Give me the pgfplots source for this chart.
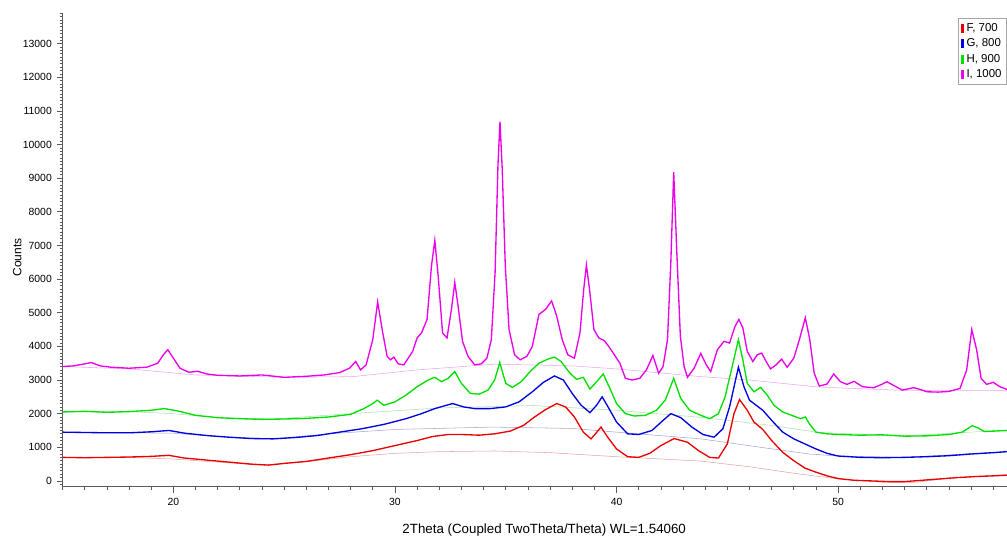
\documentclass[border=0pt]{standalone}
\usepackage{fontspec}
\setmainfont{Liberation Sans}
\usepackage{pgfplots}
\pgfplotsset{compat=1.18}
\usetikzlibrary{calc}
\definecolor{cF}{RGB}{235,0,0}
\definecolor{cG}{RGB}{0,0,225}
\definecolor{cH}{RGB}{0,225,0}
\definecolor{cI}{RGB}{235,0,235}
\definecolor{bF}{RGB}{225,165,165}
\definecolor{bG}{RGB}{165,165,215}
\definecolor{bH}{RGB}{170,225,170}
\definecolor{bI}{RGB}{235,165,235}
\definecolor{axc}{RGB}{90,90,90}
\begin{document}
\begin{tikzpicture}
\begin{axis}[
  scale only axis,
  width=708.4pt, height=355pt,
  xmin=15, xmax=57.62, ymin=-170, ymax=13900,
  axis lines=left,
  axis line style={-, axc, line width=0.6pt},
  tick style={axc, line width=0.5pt},
  tick align=outside,
  major tick length=4.5pt,
  minor tick length=2.2pt,
  xtick={20,30,40,50},
  minor xtick={15,16,...,57},
  ytick={0,1000,...,13000},
  minor ytick={-100,0,...,13900},
  scaled y ticks=false,
  scaled x ticks=false,
  yticklabel={\pgfmathprintnumber[fixed,precision=0,1000 sep={}]{\tick}},
  /pgf/number format/1000 sep={},
  /pgf/number format/assume math mode=true,
  tick label style={font=\fontsize{7.8}{8}\selectfont},
  xticklabel style={yshift=-1pt},
  xlabel={2Theta (Coupled TwoTheta/Theta) WL=1.54060},
  ylabel={Counts},
  xlabel style={at={(axis description cs:0.51,-0.091)}, anchor=center, font=\fontsize{10}{12}\selectfont},
  ylabel style={at={(axis description cs:-0.048,0.484)}, anchor=center, font=\fontsize{9}{11}\selectfont},
  legend style={at={(1,0.99)}, anchor=north east, draw=gray!70, line width=0.5pt,
    font=\fontsize{8.6}{9.5}\selectfont, inner sep=1.8pt, row sep=0pt, cells={anchor=west}},
  legend image code/.code={\draw[#1, line width=2.3pt] (0.14cm,-0.12cm) -- (0.14cm,0.12cm);},
  clip=true,
]
% background curves
\addplot[bF, line width=0.4pt, forget plot] coordinates {
(15,690)(18,700)(20,650)(22,560)(24,470)(26,570)(28,720)(30,820)(32,870)(34.5,890)(37,840)(40,720)(43.8,590)(46,420)(48.3,200)(50,60)(52,-40)(53.5,-40)(55,80)(57.62,190)};
\addplot[bG, line width=0.4pt, forget plot] coordinates {
(15,1440)(18,1430)(20,1420)(22,1320)(24.5,1250)(27,1400)(30,1530)(34.4,1600)(38,1560)(40,1450)(43.8,1250)(46.5,1000)(48.7,800)(50,740)(53,700)(57.62,870)};
\addplot[bH, line width=0.4pt, forget plot] coordinates {
(15,2050)(18,2060)(20,2000)(22,1880)(24.5,1840)(28,2000)(32,2170)(36.3,2240)(40,2100)(43.8,1890)(47,1650)(49.1,1440)(53,1340)(57.62,1510)};
\addplot[bI, line width=0.4pt, forget plot] coordinates {
(15,3400)(18,3330)(21,3150)(25,3080)(28.1,3100)(31,3300)(34.5,3470)(38,3420)(40,3330)(43.8,3100)(46,3000)(49.1,2790)(53,2690)(57.62,2680)};
% F, 700
\addplot[cF, line width=1pt] coordinates {
(15,700)(16,690)(17,700)(18,710)(19,730)(19.8,760)(20.5,680)(21.5,620)(22.5,560)(23.5,500)(24.3,470)(25,520)(26,580)(27,680)(28,780)(29,900)(30,1050)(31,1200)(31.7,1320)(32.4,1380)(33,1380)(33.8,1360)(34.5,1400)(35.2,1480)(35.8,1650)(36.3,1900)(36.8,2120)(37.3,2300)(37.7,2200)(38.1,1900)(38.5,1450)(38.85,1250)(39.05,1400)(39.3,1600)(39.6,1300)(40.0,950)(40.5,720)(41.0,700)(41.5,820)(42.0,1050)(42.6,1260)(43.2,1150)(43.7,900)(44.2,700)(44.6,680)(45.0,1100)(45.3,2000)(45.55,2420)(45.9,2100)(46.2,1750)(46.6,1530)(47.0,1200)(47.5,850)(48.0,600)(48.5,380)(49.0,260)(49.5,150)(50.0,70)(50.7,20)(51.5,0)(52.3,-20)(53.0,-20)(53.8,20)(54.6,60)(55.4,100)(56.2,130)(57.0,150)(57.62,170)};
\addlegendentry{F, 700}
% G, 800
\addplot[cG, line width=1pt] coordinates {
(15,1450)(16,1440)(17,1430)(18,1430)(19,1460)(19.8,1500)(20.5,1420)(21.5,1350)(22.5,1300)(23.5,1260)(24.5,1250)(25.5,1290)(26.5,1350)(27.5,1450)(28.5,1550)(29.5,1680)(30.5,1850)(31.2,2000)(31.8,2150)(32.6,2300)(33.1,2200)(33.6,2150)(34.3,2150)(35.0,2200)(35.6,2350)(36.2,2650)(36.7,2930)(37.2,3120)(37.6,3000)(38.0,2600)(38.4,2250)(38.8,2030)(39.1,2250)(39.35,2500)(39.6,2220)(40.0,1750)(40.5,1400)(41.0,1380)(41.6,1500)(42.1,1800)(42.45,2000)(42.9,1880)(43.4,1600)(43.9,1380)(44.4,1300)(44.8,1550)(45.1,2200)(45.5,3380)(45.75,2800)(46.0,2400)(46.3,2250)(46.6,2100)(47.0,1800)(47.5,1450)(48.0,1250)(48.5,1100)(49.0,950)(49.5,820)(50.0,740)(51,700)(52,690)(53,700)(54,720)(55,750)(56,800)(57,840)(57.62,870)};
\addlegendentry{G, 800}
% H, 900
\addplot[cH, line width=1pt] coordinates {
(15,2050)(16,2070)(17,2040)(18,2060)(19,2100)(19.6,2150)(20.2,2080)(21,1950)(22,1880)(23,1850)(24,1830)(25,1840)(26,1860)(27,1900)(28,1980)(28.6,2150)(29.0,2300)(29.2,2400)(29.5,2250)(30.0,2350)(30.5,2550)(31.0,2800)(31.5,3000)(31.8,3080)(32.1,2950)(32.4,3050)(32.7,3250)(33.0,2900)(33.4,2600)(33.8,2580)(34.2,2700)(34.5,3000)(34.73,3520)(35.0,2900)(35.3,2780)(35.7,2950)(36.1,3250)(36.5,3500)(36.9,3620)(37.2,3680)(37.5,3550)(37.9,3200)(38.2,3020)(38.5,3080)(38.8,2730)(39.1,2950)(39.4,3180)(39.7,2750)(40.0,2300)(40.4,2000)(40.8,1930)(41.3,1950)(41.8,2100)(42.2,2400)(42.58,3050)(42.9,2450)(43.3,2100)(43.8,1950)(44.2,1850)(44.6,2000)(44.9,2500)(45.2,3350)(45.5,4200)(45.7,3600)(45.9,2900)(46.2,2650)(46.5,2780)(46.8,2550)(47.1,2250)(47.5,2050)(47.9,1950)(48.3,1850)(48.52,1900)(48.7,1700)(49.0,1450)(49.5,1400)(50,1380)(51,1360)(52,1370)(53,1330)(54,1340)(55,1380)(55.6,1450)(56.05,1640)(56.3,1580)(56.6,1470)(57,1480)(57.62,1500)};
\addlegendentry{H, 900}
% I, 1000
\addplot[cI, line width=1pt] coordinates {
(15,3400)(15.5,3420)(16.0,3480)(16.3,3520)(16.7,3420)(17.2,3380)(18.0,3350)(18.8,3380)(19.3,3500)(19.55,3750)(19.75,3900)(20.0,3650)(20.3,3350)(20.7,3230)(21.1,3260)(21.5,3180)(22.0,3140)(23.0,3120)(24.0,3150)(25.0,3080)(26.0,3110)(26.8,3150)(27.5,3220)(27.95,3350)(28.23,3550)(28.45,3300)(28.7,3450)(29.0,4200)(29.22,5320)(29.45,4400)(29.65,3700)(29.8,3600)(29.95,3680)(30.15,3480)(30.4,3450)(30.8,3850)(31.0,4250)(31.2,4400)(31.45,4800)(31.65,6400)(31.8,7150)(31.95,6100)(32.15,4400)(32.35,4250)(32.55,5100)(32.7,5900)(32.85,5200)(33.05,4150)(33.3,3700)(33.6,3450)(33.9,3480)(34.15,3650)(34.35,4200)(34.52,6200)(34.65,9400)(34.74,10680)(34.84,9300)(34.98,6400)(35.15,4500)(35.4,3750)(35.65,3600)(35.95,3700)(36.2,4000)(36.5,4950)(36.8,5100)(37.07,5350)(37.3,4900)(37.55,4200)(37.8,3750)(38.1,3650)(38.35,4400)(38.52,5700)(38.64,6420)(38.78,5700)(38.98,4500)(39.2,4250)(39.45,4170)(39.7,3950)(39.95,3700)(40.15,3500)(40.4,3050)(40.7,3000)(41.05,3050)(41.35,3300)(41.64,3730)(41.9,3200)(42.1,3400)(42.3,4200)(42.45,6500)(42.58,9180)(42.72,6800)(42.88,4300)(43.05,3400)(43.2,3080)(43.5,3350)(43.8,3790)(44.05,3450)(44.25,3250)(44.55,3900)(44.85,4150)(45.1,4100)(45.35,4600)(45.52,4800)(45.7,4550)(45.9,3850)(46.15,3550)(46.35,3750)(46.55,3800)(46.75,3550)(46.95,3330)(47.2,3450)(47.45,3620)(47.7,3380)(48.0,3650)(48.25,4200)(48.52,4850)(48.72,4200)(48.92,3200)(49.15,2820)(49.5,2880)(49.8,3180)(50.1,2950)(50.4,2870)(50.72,2960)(51.1,2800)(51.6,2770)(52.0,2880)(52.2,2950)(52.5,2840)(52.9,2700)(53.4,2770)(53.7,2720)(54.0,2650)(54.5,2640)(55.0,2660)(55.5,2750)(55.8,3300)(56.03,4500)(56.25,3900)(56.45,3050)(56.7,2870)(57.0,2930)(57.3,2800)(57.62,2720)};
\addlegendentry{I, 1000}
\end{axis}
\pgfresetboundingbox
\useasboundingbox ($(current axis.south west)+(-46.9pt,-40pt)$) rectangle ($(current axis.north east)+(0pt,10pt)$);
\end{tikzpicture}
\end{document}
